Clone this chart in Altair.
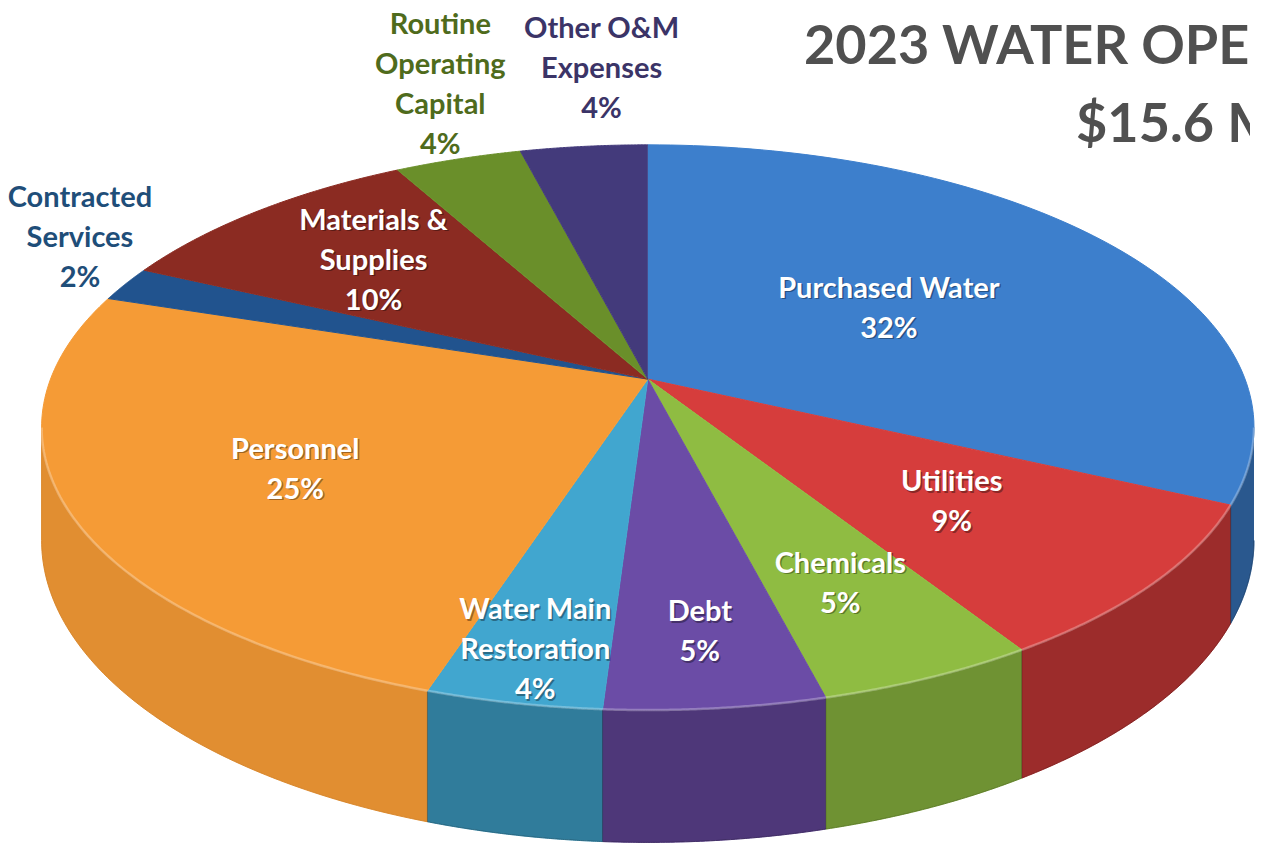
import math
import altair as alt
import pandas as pd

# ---------------- data ----------------
categories = [
    "Purchased Water", "Utilities", "Chemicals", "Debt", "Water Main Restoration",
    "Personnel", "Contracted Services", "Materials & Supplies",
    "Routine Operating Capital", "Other O&M Expenses",
]
percents = [32, 9, 5, 5, 4, 25, 2, 10, 4, 4]
label_lines = [
    "Purchased Water", "Utilities", "Chemicals", "Debt", "Water Main|Restoration",
    "Personnel", "Contracted|Services", "Materials &|Supplies",
    "Routine|Operating|Capital", "Other O&M|Expenses",
]
title_lines = ["2023 WATER OPERATING BUDGET", "$15.6 MILLION"]

# ---------------- style ----------------
slice_colors = ["#3d7fcc", "#d63d3c", "#8fbc42", "#6b4ca6", "#41a6cf",
                "#f59b36", "#21538e", "#8b2b22", "#6a8f2a", "#433a7b"]
wall_shade = [0.3, 0.27, 0.22, 0.27, 0.25, 0.08, 0.25, 0.25, 0.25, 0.25]
label_colors = ["white", "white", "white", "white", "white",
                "white", "#1f4e79", "white", "#4f6b1c", "#3b3467"]
label_radius = [0.5, 0.63, 0.72, 0.8, 0.86, 0.63, 1.0, 0.68, 1.0, 1.0]
label_dx = [0, 0, 0, 0, 0, 0, -46, 0, -18, 18]
label_dy = [0, 0, 0, 0, 0, 8, -46, 0, -74, -78]

FONT = "Lato"
FS = 29
LH = 40
CX, CY = 650, 380        # apex of the pie (image px)
RX, RY = 605, 275        # radii of the top face
K = 0.171                # perspective factor
DEPTH = 110              # thickness of the pie
N = 90                   # arc resolution
AR = math.acos(-K)
AL = 2 * math.pi - AR

table = pd.DataFrame({
    "category": categories,
    "value": percents,
    "order": list(range(len(categories))),
    "label": label_lines,
    "lcolor": label_colors,
    "lr": label_radius,
    "ldx": label_dx,
    "ldy": label_dy,
    "shade": wall_shade,
})

xs = alt.Scale(domain=[8, 1260], nice=False, zero=False)
ys = alt.Scale(domain=[8, 845], nice=False, zero=False, reverse=True)
cscale = alt.Scale(domain=categories, range=slice_colors)


def base():
    return (
        alt.Chart(table)
        .transform_joinaggregate(total="sum(value)")
        .transform_window(cum="sum(value)", sort=[alt.SortField("order")], frame=[None, 0])
        .transform_calculate(
            a0="2*PI*(datum.cum - datum.value)/datum.total",
            a1="2*PI*datum.cum/datum.total",
        )
    )


def wall_base():
    return (
        base()
        .transform_calculate(w0=f"max(datum.a0, {AR})", w1=f"min(datum.a1, {AL})")
        .transform_filter("datum.w0 < datum.w1")
        .transform_calculate(steps=f"sequence(0, {2 * N + 2})")
        .transform_flatten(["steps"])
        .transform_calculate(
            bot=f"datum.steps > {N} ? 1 : 0",
            t=f"datum.steps <= {N} ? datum.steps / {N} : ({2 * N + 1} - datum.steps) / {N}",
        )
        .transform_calculate(ang="datum.w0 + (datum.w1 - datum.w0) * datum.t")
        .transform_calculate(sp=f"1 / (1 + {K} * cos(datum.ang))")
        .transform_calculate(
            px=f"{CX} + {RX} * sin(datum.ang) * datum.sp",
            py=f"{CY} - {RY} * cos(datum.ang) * datum.sp + datum.bot * {DEPTH} * datum.sp",
        )
    )


walls = wall_base().mark_line(filled=True, strokeWidth=1).encode(
    x=alt.X("px:Q", scale=xs, axis=None),
    y=alt.Y("py:Q", scale=ys, axis=None),
    order="steps:Q",
    detail="category:N",
    fill=alt.Fill("category:N", scale=cscale, legend=None),
    stroke=alt.Stroke("category:N", scale=cscale, legend=None),
)

walls_shade = wall_base().mark_line(filled=True, strokeWidth=1).encode(
    x=alt.X("px:Q", scale=xs, axis=None),
    y=alt.Y("py:Q", scale=ys, axis=None),
    order="steps:Q",
    detail="category:N",
    fill=alt.value("black"),
    stroke=alt.value("black"),
    fillOpacity=alt.FillOpacity("shade:Q", scale=None),
    strokeOpacity=alt.StrokeOpacity("shade:Q", scale=None),
)

tops = (
    base()
    .transform_calculate(steps=f"sequence(0, {N + 2})")
    .transform_flatten(["steps"])
    .transform_calculate(
        rr="datum.steps == 0 ? 0 : 1",
        ang=f"datum.a0 + (datum.a1 - datum.a0) * max(datum.steps - 1, 0) / {N}",
    )
    .transform_calculate(sp=f"1 / (1 + {K} * datum.rr * cos(datum.ang))")
    .transform_calculate(
        px=f"{CX} + {RX} * datum.rr * sin(datum.ang) * datum.sp",
        py=f"{CY} - {RY} * datum.rr * cos(datum.ang) * datum.sp",
    )
    .mark_line(filled=True, strokeWidth=1)
    .encode(
        x=alt.X("px:Q", scale=xs, axis=None),
        y=alt.Y("py:Q", scale=ys, axis=None),
        order="steps:Q",
        detail="category:N",
        fill=alt.Fill("category:N", scale=cscale, legend=None),
        stroke=alt.Stroke("category:N", scale=cscale, legend=None),
    )
)

# light bevel along the front rim of the top face
rim = (
    wall_base()
    .transform_filter(f"datum.steps <= {N}")
    .mark_line(color="white", strokeWidth=2.5, opacity=0.28)
    .encode(
        x=alt.X("px:Q", scale=xs, axis=None),
        y=alt.Y("py:Q", scale=ys, axis=None),
        order="steps:Q",
        detail="category:N",
    )
)


def label_base():
    return (
        base()
        .transform_calculate(am="(datum.a0 + datum.a1) / 2")
        .transform_calculate(lsp=f"1 / (1 + {K} * datum.lr * cos(datum.am))")
        .transform_calculate(txt="split(datum.label + '|' + datum.value + '%', '|')")
        .transform_calculate(
            lx=f"{CX} + {RX} * datum.lr * sin(datum.am) * datum.lsp + datum.ldx",
            ly=f"{CY} - {RY} * datum.lr * cos(datum.am) * datum.lsp + datum.ldy"
               f" - (length(datum.txt) - 1) * {LH / 2}",
        )
    )


text_kw = dict(font=FONT, fontSize=FS, fontWeight="bold", lineHeight=LH,
               align="center", baseline="middle")

label_shadow = (
    label_base()
    .transform_filter("datum.lcolor == 'white'")
    .mark_text(color="black", opacity=0.35, dx=1.5, dy=1.5, **text_kw)
    .encode(
        x=alt.X("lx:Q", scale=xs, axis=None),
        y=alt.Y("ly:Q", scale=ys, axis=None),
        text="txt:N",
    )
)

labels = label_base().mark_text(**text_kw).encode(
    x=alt.X("lx:Q", scale=xs, axis=None),
    y=alt.Y("ly:Q", scale=ys, axis=None),
    text="txt:N",
    color=alt.Color("lcolor:N", scale=None),
)

title_df = pd.DataFrame({"t": [0]})
title_kw = dict(font=FONT, fontSize=54, fontWeight="bold", color="#505050",
                align="left", baseline="alphabetic", clip=True)
title1 = alt.Chart(title_df).mark_text(**title_kw).encode(
    x=alt.value(790), y=alt.value(56), text=alt.value(title_lines[0]))
title2 = alt.Chart(title_df).mark_text(**title_kw).encode(
    x=alt.value(1062), y=alt.value(134), text=alt.value(title_lines[1]))

chart = (
    alt.layer(walls, walls_shade, tops, rim, label_shadow, labels, title1, title2)
    .properties(width=1252, height=837, padding=0,
                autosize=alt.AutoSizeParams(type="fit", contains="padding"))
    .configure_view(stroke=None)
)

chart.save("out.html", embed_options={"renderer": "svg", "actions": False})
